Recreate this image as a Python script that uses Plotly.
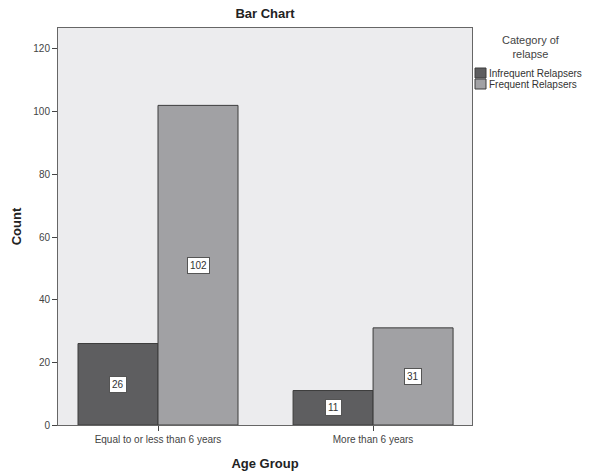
import plotly.graph_objects as go

categories = ["Equal to or less than 6 years", "More than 6 years"]
series_names = ["Infrequent Relapsers", "Frequent Relapsers"]
infrequent = [26, 11]
frequent = [102, 31]
y_ticks = [0, 20, 40, 60, 80, 100, 120]

colors = ["#5e5e60", "#a1a1a4"]
edge = "#3c3c3c"
font = "Liberation Sans, Arial, sans-serif"

W, H = 590, 473
L, R, T, B = 58, 118, 28, 48

fig = go.Figure()
for name, vals, col in zip(series_names, [infrequent, frequent], colors):
    fig.add_trace(go.Bar(
        x=categories, y=vals, name=name, showlegend=False,
        marker=dict(color=col, line=dict(color=edge, width=1)),
    ))

# value labels in white boxes at bar middles
for vals, shift in zip([infrequent, frequent], [-40, 40]):
    for c, v in zip(categories, vals):
        fig.add_annotation(
            x=c, y=v / 2, text=str(v), showarrow=False, xshift=shift,
            font=dict(family=font, size=10, color="#333333"),
            bgcolor="white", bordercolor="#555555", borderwidth=1, borderpad=2,
        )

# legend (drawn in paper coordinates)
pw = W - L - R
ph = H - T - B
def px_x(p):
    return (p - L) / pw
def px_y(p):
    return (H - B - p) / ph

fig.add_annotation(
    xref="paper", yref="paper", x=px_x(531), y=px_y(47), text="Category of<br>relapse",
    showarrow=False, xanchor="center", yanchor="middle",
    font=dict(family=font, size=11, color="#444444"),
)
for i, (name, col) in enumerate(zip(series_names, colors)):
    top = 68 + i * 11
    fig.add_shape(
        type="rect", xref="paper", yref="paper",
        x0=px_x(475), x1=px_x(486), y0=px_y(top), y1=px_y(top + 10),
        fillcolor=col, line=dict(color=edge, width=1),
    )
    fig.add_annotation(
        xref="paper", yref="paper", x=px_x(487), y=px_y(top + 5), text=name,
        showarrow=False, xanchor="left", yanchor="middle",
        font=dict(family=font, size=10, color="#333333"),
    )

fig.update_layout(
    template="none",
    width=W, height=H,
    margin=dict(l=L, r=R, t=T, b=B, autoexpand=False),
    paper_bgcolor="white", plot_bgcolor="#ececee",
    barmode="group", bargap=0.256, bargroupgap=0,
    showlegend=False,
    font=dict(family=font, size=10, color="#444444"),
    title=dict(text="<b>Bar Chart</b>", x=(L + pw / 2) / W, xanchor="center",
               y=1 - 13 / H, yanchor="middle",
               font=dict(family=font, size=13, color="#222222")),
)
fig.update_xaxes(
    type="category", range=[-0.465, 1.46], automargin=False,
    showline=True, linecolor="#666666", linewidth=1, mirror=True,
    ticks="outside", ticklen=5, tickcolor="#444444",
    tickfont=dict(family=font, size=10, color="#444444"),
    title=dict(text="<b>Age Group</b>", font=dict(family=font, size=13, color="#222222"), standoff=14),
    showgrid=False,
)
fig.update_yaxes(
    range=[0, 126.7], tickvals=y_ticks, automargin=False,
    showline=True, linecolor="#666666", linewidth=1, mirror=True,
    ticks="outside", ticklen=5, tickcolor="#444444",
    tickfont=dict(family=font, size=10, color="#444444"),
    title=dict(text="<b>Count</b>", font=dict(family=font, size=13, color="#222222"), standoff=8),
    showgrid=False, zeroline=False,
)

fig.write_html("out.html", config={"displayModeBar": False},
               post_script="document.body.style.margin='0';")
